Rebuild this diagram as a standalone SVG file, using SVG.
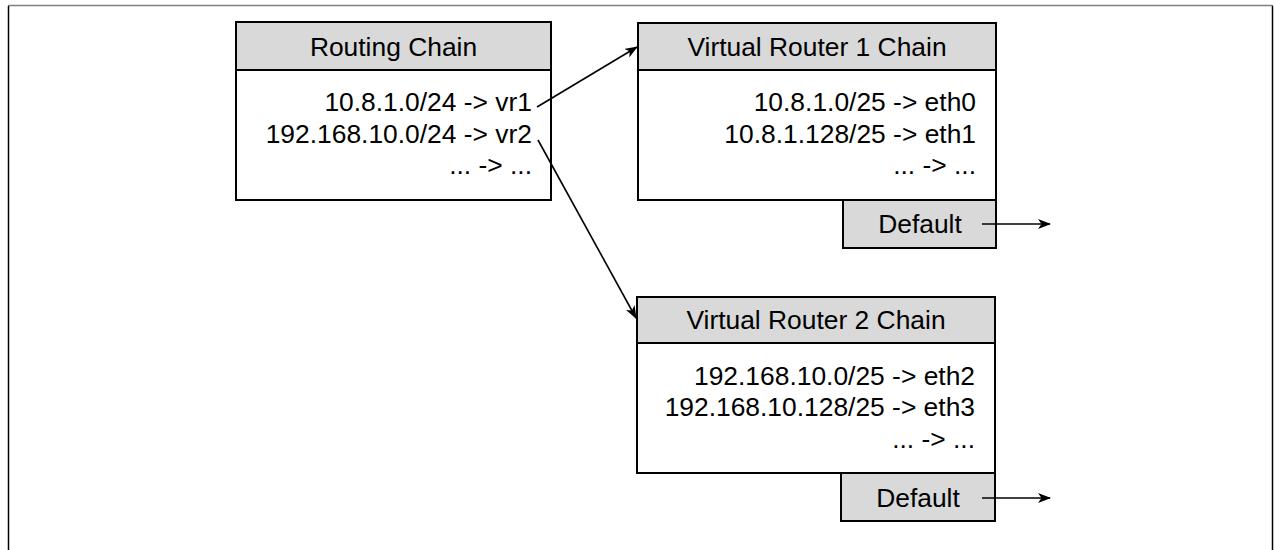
<svg xmlns="http://www.w3.org/2000/svg" width="1275" height="550" viewBox="0 0 1275 550">
  <defs>
    <style>
      .box { fill: #ffffff; stroke: #000000; stroke-width: 2; }
      .head { fill: #d9d9d9; stroke: #000000; stroke-width: 2; }
      .title { font-family: "Liberation Sans", Arial, sans-serif; font-size: 26.4px; fill: #000000; text-anchor: middle; }
      .rule { font-family: "Liberation Sans", Arial, sans-serif; font-size: 26.4px; fill: #000000; text-anchor: end; }
      .link { stroke: #000000; stroke-width: 1.6; fill: none; marker-end: url(#arrow); }
    </style>
    <marker id="arrow" viewBox="0 0 13 10" refX="12" refY="5" markerWidth="13" markerHeight="10" markerUnits="userSpaceOnUse" orient="auto">
      <path d="M0,0 L13,5 L0,10 L3.5,5 z" fill="#000000"/>
    </marker>
  </defs>

  <rect width="1275" height="550" fill="#ffffff"/>

  <!-- outer frame -->
  <line x1="8" y1="5.5" x2="1273" y2="5.5" stroke="#808080" stroke-width="1.5"/>
  <line x1="8.5" y1="6" x2="8.5" y2="550" stroke="#000000" stroke-width="1.5"/>
  <line x1="1272.5" y1="6" x2="1272.5" y2="550" stroke="#000000" stroke-width="1.5"/>

  <!-- routing chain -->
  <g id="routing-chain">
    <rect class="box" x="236" y="22" width="315" height="178"/>
    <rect class="head" x="236" y="22" width="315" height="48"/>
    <text class="title" x="393.5" y="56">Routing Chain</text>
    <text class="rule" x="532" y="111">10.8.1.0/24 -&gt; vr1</text>
    <text class="rule" x="532" y="142.5">192.168.10.0/24 -&gt; vr2</text>
    <text class="rule" x="532" y="174">... -&gt; ...</text>
  </g>

  <!-- virtual router 1 -->
  <g id="vr1-chain">
    <rect class="box" x="638" y="23" width="358" height="177"/>
    <rect class="head" x="638" y="23" width="358" height="47"/>
    <text class="title" x="817" y="56">Virtual Router 1 Chain</text>
    <text class="rule" x="976" y="111">10.8.1.0/25 -&gt; eth0</text>
    <text class="rule" x="976" y="142.5">10.8.1.128/25 -&gt; eth1</text>
    <text class="rule" x="976" y="174">... -&gt; ...</text>
  </g>
  <g id="vr1-default">
    <rect class="head" x="843" y="200" width="153" height="48"/>
    <text class="title" x="920" y="233">Default</text>
  </g>

  <!-- virtual router 2 -->
  <g id="vr2-chain">
    <rect class="box" x="637" y="297" width="358" height="176"/>
    <rect class="head" x="637" y="297" width="358" height="46"/>
    <text class="title" x="816" y="329">Virtual Router 2 Chain</text>
    <text class="rule" x="975" y="384.5">192.168.10.0/25 -&gt; eth2</text>
    <text class="rule" x="975" y="416">192.168.10.128/25 -&gt; eth3</text>
    <text class="rule" x="975" y="447.5">... -&gt; ...</text>
  </g>
  <g id="vr2-default">
    <rect class="head" x="841" y="473" width="154" height="48"/>
    <text class="title" x="918" y="507">Default</text>
  </g>

  <!-- connectors -->
  <g id="connectors">
    <line class="link" x1="537" y1="107" x2="637" y2="47"/>
    <line class="link" x1="538" y1="140" x2="636" y2="318"/>
    <line class="link" x1="982" y1="224" x2="1050" y2="224"/>
    <line class="link" x1="982" y1="498" x2="1050" y2="498"/>
  </g>
</svg>
